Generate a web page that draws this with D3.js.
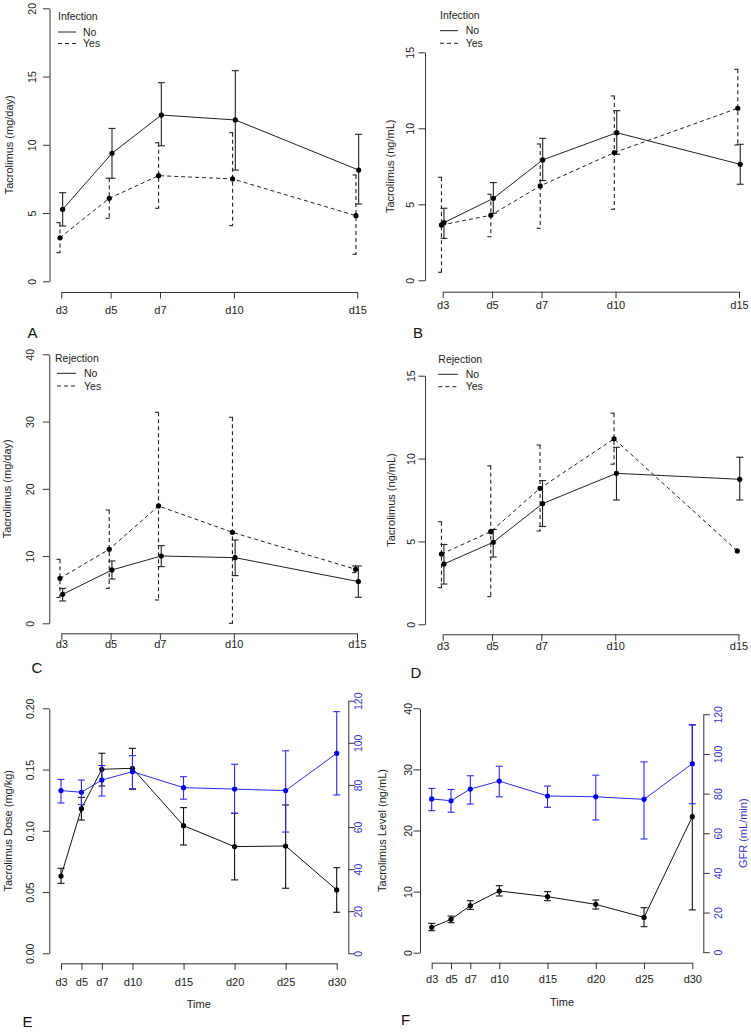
<!DOCTYPE html>
<html><head><meta charset="utf-8">
<script src="https://cdn.jsdelivr.net/npm/d3@7"></script>
<style>
body{margin:0;background:#fff;}
svg{display:block;font-family:"Liberation Sans",Arial,Helvetica,sans-serif;}
</style></head><body>
<svg id="c" width="751" height="1033"></svg>
<script>
// ---------- DATA ----------
const daysShort = [3, 5, 7, 10, 15];
const daysLong = [3, 5, 7, 10, 15, 20, 25, 30];
const tickLabelsShort = ["d3", "d5", "d7", "d10", "d15"];
const tickLabelsLong = ["d3", "d5", "d7", "d10", "d15", "d20", "d25", "d30"];
const groupLabels = ["No", "Yes"];

// A: Infection, Tacrolimus (mg/day)
const aNoMean = [5.27, 9.38, 12.18, 11.82, 8.15];
const aNoLo   = [4.05, 7.55, 9.93, 8.15, 5.66];
const aNoHi   = [6.49, 11.2, 14.55, 15.43, 10.77];
const aYesMean = [3.19, 6.08, 7.74, 7.5, 4.81];
const aYesLo   = [2.1, 4.62, 5.35, 4.08, 1.98];
const aYesHi   = [4.3, 7.55, 10.15, 10.89, 7.79];

// B: Infection, Tacrolimus (ng/mL)
const bNoMean = [3.79, 5.39, 7.92, 9.71, 7.63];
const bNoLo   = [2.76, 4.41, 6.56, 8.29, 6.32];
const bNoHi   = [4.74, 6.43, 9.34, 11.16, 8.95];
const bYesMean = [3.64, 4.28, 6.21, 8.4, 11.32];
const bYesLo   = [0.53, 2.87, 3.42, 4.67, 8.9];
const bYesHi   = [6.78, 5.66, 8.97, 12.13, 13.88];

// C: Rejection, Tacrolimus (mg/day)
const cNoMean = [4.31, 7.93, 10.01, 9.76, 6.2];
const cNoLo   = [3.32, 6.59, 8.43, 7.09, 3.87];
const cNoHi   = [5.2, 9.27, 11.55, 12.39, 8.53];
const cYesMean = [6.69, 11.0, 17.45, 13.53, 8.03];
const cYesLo   = [3.86, 5.2, 3.47, 0, 7.53];
const cYesHi   = [9.52, 16.85, 31.38, 30.63, 8.53];

// D: Rejection, Tacrolimus (ng/mL)
const dNoMean = [3.64, 4.95, 7.28, 9.11, 8.75];
const dNoLo   = [2.43, 4.06, 5.9, 7.5, 7.5];
const dNoHi   = [4.82, 5.72, 8.67, 10.68, 10.08];
const dYesMean = [4.24, 5.59, 8.21, 11.19, 4.43];
const dYesLo   = [2.21, 1.67, 5.63, 9.66, 4.43];
const dYesHi   = [6.19, 9.56, 10.82, 12.74, 4.43];

// E: Tacrolimus dose (mg/kg, left) and level (right, blue)
const eDoseMean = [0.0631, 0.1181, 0.1502, 0.151, 0.1042, 0.0871, 0.0876, 0.0517];
const eDoseLo   = [0.0571, 0.1088, 0.1366, 0.1339, 0.0884, 0.0599, 0.0531, 0.0335];
const eDoseHi   = [0.0694, 0.1273, 0.1633, 0.1673, 0.1189, 0.1143, 0.1211, 0.0699];
const eBlueMean = [77.3, 76.5, 82.3, 86.3, 78.7, 78.0, 77.3, 95.0];
const eBlueLo   = [71.4, 70.6, 74.7, 78.2, 73.2, 66.5, 57.6, 75.2];
const eBlueHi   = [82.6, 82.3, 89.2, 93.9, 83.9, 89.8, 96.2, 114.8];

// F: Tacrolimus level (ng/mL, left) and GFR (mL/min, right, blue)
const fLevelMean = [4.15, 5.46, 7.69, 10.1, 9.17, 7.91, 5.78, 22.26];
const fLevelLo   = [3.6, 4.91, 7.09, 9.28, 8.51, 7.15, 4.26, 7.0];
const fLevelHi   = [4.8, 6.0, 8.51, 10.97, 9.99, 8.62, 7.37, 37.3];
const fGfrMean = [77.3, 76.4, 82.3, 86.3, 78.8, 78.4, 77.1, 95.1];
const fGfrLo   = [71.4, 70.6, 74.7, 78.4, 73.1, 66.7, 57.1, 74.9];
const fGfrHi   = [82.6, 82.1, 89.0, 93.8, 83.8, 89.3, 96.0, 114.7];

// ---------- DRAW ----------
const svg = d3.select("#c");
svg.append("rect").attr("width", 751).attr("height", 1033).attr("fill", "#fff");

const AX = "#333";
const TXT = "#222";
const BLUE = "#2a2af0";
const BLUE_TXT = "#3434d0";
const DASH = "4,3";

const panels = [
  { id: "A", clip: [0, 0, 376, 340],
    x: { dom: [3, 15], range: [61.3, 357.3], axisY: 292, ticks: daysShort, labels: tickLabelsShort, labelY: 310 },
    yL: { dom: [0, 20], range: [281.3, 8.3], axisX: 49.5, ticks: [0, 5, 10, 15, 20], fmt: d3.format("d"), off: 17, title: "Tacrolimus (mg/day)", titleX: 8.7 },
    legend: { title: "Infection", x: 58, y: 16, line: [58, 76], textX: 83, ys: [32, 43.5] },
    series: [
      { mean: aNoMean, lo: aNoLo, hi: aNoHi, dash: null, dodge: 0.055 },
      { mean: aYesMean, lo: aYesLo, hi: aYesHi, dash: DASH, dodge: -0.055 } ],
    letter: { t: "A", x: 27.5, y: 337.5 } },
  { id: "B", clip: [375, 0, 376, 340],
    x: { dom: [3, 15], range: [442.7, 739], axisY: 291.7, ticks: daysShort, labels: tickLabelsShort, labelY: 305.5 },
    yL: { dom: [0, 15], range: [280.3, 52.3], axisX: 425, ticks: [0, 5, 10, 15], fmt: d3.format("d"), off: 15, title: "Tacrolimus (ng/mL)", titleX: 390 },
    legend: { title: "Infection", x: 440, y: 15, line: [440, 458], textX: 465.7, ys: [30.7, 43.3] },
    series: [
      { mean: bNoMean, lo: bNoLo, hi: bNoHi, dash: null, dodge: 0.05 },
      { mean: bYesMean, lo: bYesLo, hi: bYesHi, dash: DASH, dodge: -0.05 } ],
    letter: { t: "B", x: 413, y: 337.5 } },
  { id: "C", clip: [0, 340, 376, 340],
    x: { dom: [3, 15], range: [61.3, 357], axisY: 633.3, ticks: daysShort, labels: tickLabelsShort, labelY: 644.5 },
    yL: { dom: [0, 40], range: [623.3, 354.3], axisX: 49.3, ticks: [0, 10, 20, 30, 40], fmt: d3.format("d"), off: 19, title: "Tacrolimus (mg/day)", titleX: 7.5 },
    legend: { title: "Rejection", x: 55, y: 358.3, line: [57, 76], textX: 84, ys: [373.3, 386] },
    series: [
      { mean: cNoMean, lo: cNoLo, hi: cNoHi, dash: null, dodge: 0.055 },
      { mean: cYesMean, lo: cYesLo, hi: cYesHi, dash: DASH, dodge: -0.055 } ],
    letter: { t: "C", x: 31.5, y: 673 } },
  { id: "D", clip: [375, 340, 376, 340],
    x: { dom: [3, 15], range: [442.7, 738.5], axisY: 634.3, ticks: daysShort, labels: tickLabelsShort, labelY: 646 },
    yL: { dom: [0, 15], range: [624.3, 375.7], axisX: 425, ticks: [0, 5, 10, 15], fmt: d3.format("d"), off: 13.5, title: "Tacrolimus (ng/mL)", titleX: 391 },
    legend: { title: "Rejection", x: 438.3, y: 359, line: [438.3, 457.7], textX: 465.7, ys: [374.3, 386.7] },
    series: [
      { mean: dNoMean, lo: dNoLo, hi: dNoHi, dash: null, dodge: 0.05 },
      { mean: dYesMean, lo: dYesLo, hi: dYesHi, dash: DASH, dodge: -0.05 } ],
    letter: { t: "D", x: 410.5, y: 677.5 } },
  { id: "E", clip: [0, 680, 377, 353],
    x: { dom: [3, 30], range: [61, 336.7], axisY: 963.3, ticks: daysLong, labels: tickLabelsLong, labelY: 981.7, title: "Time", titleY: 1004 },
    yL: { dom: [0, 0.2], range: [953.3, 708.3], axisX: 49.3, ticks: [0, 0.05, 0.1, 0.15, 0.2], fmt: d3.format(".2f"), off: 19, title: "Tacrolimus Dose (mg/kg)", titleX: 8.3 },
    yR: { dom: [0, 120], range: [953.3, 700.7], axisX: 348.3, ticks: [0, 20, 40, 60, 80, 100, 120], fmt: d3.format("d"), off: 10.5, title: "Tacrolimus Level (ng/mL)", titleX: 380 },
    series: [
      { mean: eDoseMean, lo: eDoseLo, hi: eDoseHi, axis: "L", color: "#111", dodge: 0 },
      { mean: eBlueMean, lo: eBlueLo, hi: eBlueHi, axis: "R", color: BLUE, dodge: 0 } ],
    letter: { t: "E", x: 22.5, y: 1026.7 } },
  { id: "F", clip: [375, 680, 376, 353],
    x: { dom: [3, 30], range: [431.7, 692.3], axisY: 962.7, ticks: daysLong, labels: tickLabelsLong, labelY: 979.3, title: "Time", titleY: 1001.7 },
    yL: { dom: [0, 40], range: [952.7, 708.3], axisX: 420, ticks: [0, 10, 20, 30, 40], fmt: d3.format("d"), off: 12, title: "Tacrolimus Level (ng/mL)", titleX: 382.3 },
    yR: { dom: [0, 120], range: [952.2, 714.3], axisX: 703.3, ticks: [0, 20, 40, 60, 80, 100, 120], fmt: d3.format("d"), off: 15, title: "GFR (mL/min)", titleX: 743.3, color: true },
    series: [
      { mean: fLevelMean, lo: fLevelLo, hi: fLevelHi, axis: "L", color: "#111", dodge: 0 },
      { mean: fGfrMean, lo: fGfrLo, hi: fGfrHi, axis: "R", color: BLUE, dodge: 0 } ],
    letter: { t: "F", x: 401, y: 1025 } }
];

const defs = svg.append("defs");

function styleAxis(G) {
  G.attr("font-family", null).attr("font-size", null);
  G.select(".domain").attr("stroke", AX).attr("stroke-width", 1);
  G.selectAll(".tick line").attr("stroke", AX).attr("stroke-width", 1);
}

panels.forEach(p => {
  defs.append("clipPath").attr("id", "clip" + p.id).append("rect")
    .attr("x", p.clip[0]).attr("y", p.clip[1]).attr("width", p.clip[2]).attr("height", p.clip[3]);
  const g = svg.append("g").attr("clip-path", `url(#clip${p.id})`);
  g.append("rect").attr("x", p.clip[0]).attr("y", p.clip[1]).attr("width", p.clip[2]).attr("height", p.clip[3]).attr("fill", "#fff");

  const xs = d3.scaleLinear().domain(p.x.dom).range(p.x.range);
  const yL = d3.scaleLinear().domain(p.yL.dom).range(p.yL.range);
  const yR = p.yR ? d3.scaleLinear().domain(p.yR.dom).range(p.yR.range) : null;

  // X axis
  const xa = d3.axisBottom(xs).tickValues(p.x.ticks).tickSize(6.5).tickSizeOuter(0)
    .tickFormat((d, i) => p.x.labels[i]);
  const XG = g.append("g").attr("transform", `translate(0,${p.x.axisY})`).call(xa);
  styleAxis(XG);
  XG.selectAll(".tick text").attr("y", p.x.labelY - p.x.axisY).attr("dy", "0.35em")
    .attr("fill", TXT).attr("font-size", 11).attr("text-anchor", "middle");
  if (p.x.title) {
    g.append("text").attr("x", (p.x.range[0] + p.x.range[1]) / 2).attr("y", p.x.titleY).attr("dy", "0.35em")
      .attr("text-anchor", "middle").attr("font-size", 11).attr("fill", TXT).text(p.x.title);
  }

  // Left Y axis
  const yla = d3.axisLeft(yL).tickValues(p.yL.ticks).tickSize(6.5).tickSizeOuter(0).tickFormat(p.yL.fmt);
  const YG = g.append("g").attr("transform", `translate(${p.yL.axisX},0)`).call(yla);
  styleAxis(YG);
  YG.selectAll(".tick text").attr("x", null).attr("dy", "0.35em").attr("text-anchor", "middle")
    .attr("transform", `translate(${-p.yL.off},0) rotate(-90)`).attr("fill", TXT).attr("font-size", 10.5);
  g.append("text").attr("transform", `translate(${p.yL.titleX},${(p.yL.range[0] + p.yL.range[1]) / 2}) rotate(-90)`)
    .attr("dy", "0.35em").attr("text-anchor", "middle").attr("font-size", 11).attr("fill", TXT).text(p.yL.title);

  // Right Y axis
  if (yR) {
    const yra = d3.axisRight(yR).tickValues(p.yR.ticks).tickSize(6.5).tickSizeOuter(0).tickFormat(p.yR.fmt);
    const RG = g.append("g").attr("transform", `translate(${p.yR.axisX},0)`).call(yra);
    styleAxis(RG);
    RG.selectAll(".tick text").attr("x", null).attr("dy", "0.35em").attr("text-anchor", "middle")
      .attr("transform", `translate(${p.yR.off},0) rotate(-90)`).attr("fill", BLUE_TXT).attr("font-size", 10.5);
    g.append("text").attr("transform", `translate(${p.yR.titleX},${(p.yR.range[0] + p.yR.range[1]) / 2}) rotate(-90)`)
      .attr("dy", "0.35em").attr("text-anchor", "middle").attr("font-size", 11).attr("fill", BLUE_TXT).text(p.yR.title);
  }

  // Series
  p.series.forEach(s => {
    const ys = s.axis === "R" ? yR : yL;
    const col = s.color || "#222";
    const pts = p.x.ticks.map((d, i) => ({ x: xs(d + s.dodge), m: ys(s.mean[i]), lo: ys(s.lo[i]), hi: ys(s.hi[i]) }));
    g.append("path").datum(pts).attr("fill", "none").attr("stroke", col).attr("stroke-width", 1)
      .attr("stroke-dasharray", s.dash).attr("d", d3.line().x(d => d.x).y(d => d.m));
    const eb = g.append("g").attr("stroke", col).attr("stroke-width", 1.1).attr("stroke-dasharray", s.dash);
    pts.forEach(d => {
      if (Math.abs(d.lo - d.hi) < 0.5) return;
      eb.append("line").attr("x1", d.x).attr("x2", d.x).attr("y1", d.hi).attr("y2", d.lo);
      eb.append("line").attr("x1", d.x - 3.5).attr("x2", d.x + 3.5).attr("y1", d.hi).attr("y2", d.hi).attr("stroke-dasharray", null);
      eb.append("line").attr("x1", d.x - 3.5).attr("x2", d.x + 3.5).attr("y1", d.lo).attr("y2", d.lo).attr("stroke-dasharray", null);
    });
    g.append("g").selectAll("circle").data(pts).join("circle")
      .attr("cx", d => d.x).attr("cy", d => d.m).attr("r", 2.6)
      .attr("fill", s.axis === "R" ? "#0000ee" : "#000");
  });

  // Legend
  if (p.legend) {
    const L = p.legend;
    g.append("text").attr("x", L.x).attr("y", L.y).attr("dy", "0.35em").attr("font-size", 10.5).attr("fill", TXT).text(L.title);
    groupLabels.forEach((lab, i) => {
      g.append("line").attr("x1", L.line[0]).attr("x2", L.line[1]).attr("y1", L.ys[i]).attr("y2", L.ys[i])
        .attr("stroke", "#222").attr("stroke-width", 1).attr("stroke-dasharray", p.series[i].dash);
      g.append("text").attr("x", L.textX).attr("y", L.ys[i]).attr("dy", "0.35em").attr("font-size", 10.5).attr("fill", TXT).text(lab);
    });
  }

  // Panel letter
  g.append("text").attr("x", p.letter.x).attr("y", p.letter.y).attr("font-size", 15).attr("fill", "#111").text(p.letter.t);
});
</script>
</body></html>
